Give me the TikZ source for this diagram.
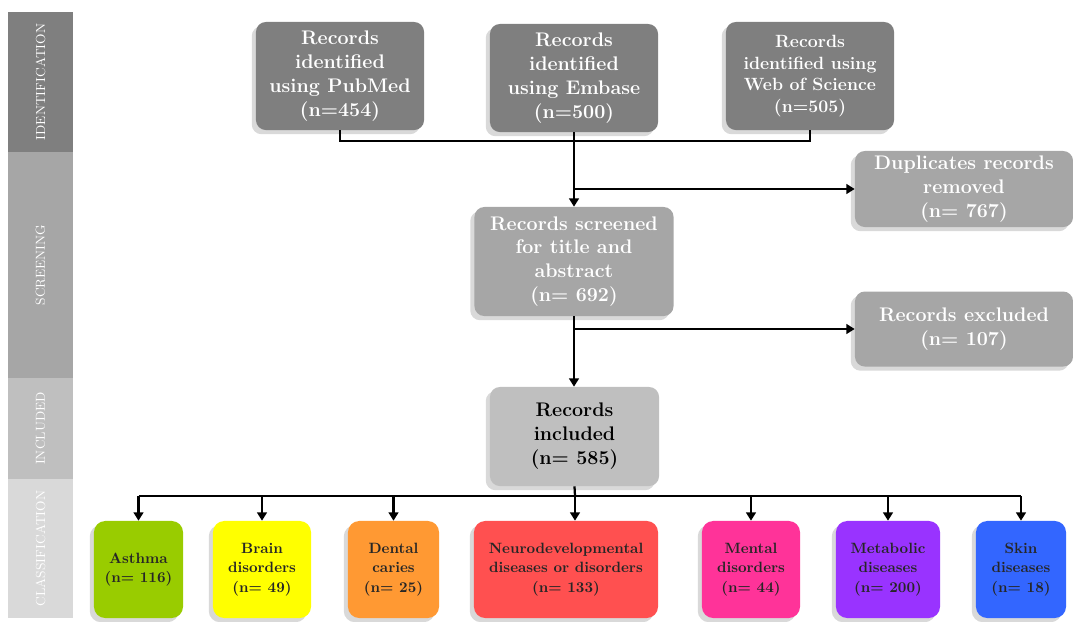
\documentclass[tikz,border=0pt]{standalone}
\usetikzlibrary{arrows.meta,shadows}

\definecolor{idgray}{HTML}{7F7F7F}
\definecolor{scrgray}{HTML}{A6A6A6}
\definecolor{incgray}{HTML}{BFBFBF}
\definecolor{clsgray}{HTML}{D9D9D9}
\definecolor{asthmagreen}{HTML}{99CC00}
\definecolor{brainyellow}{HTML}{FFFF00}
\definecolor{dentalorange}{HTML}{FF9933}
\definecolor{neurored}{HTML}{FF5050}
\definecolor{mentalpink}{HTML}{FF3399}
\definecolor{metapurple}{HTML}{9933FF}
\definecolor{skinblue}{HTML}{3366FF}

\tikzset{
  rbox/.style={rounded corners=7pt, align=center, inner sep=2pt,
    font=\bfseries\fontsize{14}{17}\selectfont,
    drop shadow={shadow xshift=-3pt, shadow yshift=-3pt, opacity=.3}},
  topbox/.style={rbox, fill=idgray, text=white, minimum width=4.2cm, minimum height=2.7cm},
  sidebox/.style={rbox, fill=scrgray, text=white, minimum width=5.45cm, minimum height=1.9cm},
  catbox/.style={rbox, rounded corners=8pt, text=black!85, minimum height=2.425cm,
    font=\bfseries\fontsize{10.6}{14}\selectfont},
  flow/.style={line width=1.6pt},
  arr/.style={flow, -{Triangle[length=6pt,width=7pt]}},
  band/.style={rotate=90, text=white, font=\fontsize{9.3}{11}\selectfont}
}

\begin{document}
\begin{tikzpicture}[x=0.025cm, y=-0.025cm]
                \useasboundingbox (0, 0) rectangle (1073, 621);

                % phase bands
                \fill [idgray] (8, 12) rectangle (73, 152);
                \fill [scrgray] (8, 152) rectangle (73, 378);
                \fill [incgray] (8, 378) rectangle (73, 479);
                \fill [clsgray] (8, 479) rectangle (73, 618);
                \node [band] (bandid) at (40.5, 82) {IDENTIFICATION};
                \node [band] (bandscr) at (40.5, 265) {SCREENING};
                \node [band] (bandinc) at (40.5, 428.5) {INCLUDED};
                \node [band] (bandcls) at (40.5, 548.5) {CLASSIFICATION};

                % identification
                \node [topbox] (pubmed) at (340, 76) {Records\\identified\\using PubMed\\(n=454)};
                \node [topbox] (embase) at (574, 78) {Records\\identified\\using Embase\\(n=500)};
                \node [topbox, font=\bfseries\fontsize{12.6}{15.5}\selectfont] (wos) at (810, 76) {Records\\identified using\\Web of Science\\(n=505)};

                % screening
                \node [sidebox] (dupl) at (964, 189) {Duplicates records\\removed\\(n= 767)};
                \node [rbox, fill=scrgray, text=white, minimum width=4.975cm, minimum height=2.725cm] (screened) at (574, 261.5) {Records screened\\for title and\\abstract\\(n= 692)};
                \node [sidebox, minimum height=1.875cm] (excl) at (964, 329) {Records excluded\\(n= 107)};

                % included
                \node [rbox, fill=incgray, text=black, minimum width=4.225cm, minimum height=2.475cm] (included) at (574.5, 436.5) {Records\\included\\(n= 585)};

                % classification
                \node [catbox, fill=asthmagreen, minimum width=2.225cm] (asthma) at (138.5, 569.5) {Asthma\\(n= 116)};
                \node [catbox, fill=brainyellow, minimum width=2.45cm] (brain) at (262, 569.5) {Brain\\disorders\\(n= 49)};
                \node [catbox, fill=dentalorange, minimum width=2.275cm] (dental) at (393.5, 569.5) {Dental\\caries\\(n= 25)};
                \node [catbox, fill=neurored, minimum width=4.6cm] (neuro) at (566, 569.5) {Neurodevelopmental\\diseases or disorders\\(n= 133)};
                \node [catbox, fill=mentalpink, minimum width=2.45cm] (mental) at (751, 569.5) {Mental\\disorders\\(n= 44)};
                \node [catbox, fill=metapurple, minimum width=2.6cm] (meta) at (888, 569.5) {Metabolic\\diseases\\(n= 200)};
                \node [catbox, fill=skinblue, minimum width=2.25cm] (skin) at (1021, 569.5) {Skin\\diseases\\(n= 18)};

                % connectors
                \coordinate (idjoin) at (575, 141);
                \draw [flow] (pubmed.south) |- (idjoin) -| (wos.south);
                \draw [arr] (embase.south) -- (embase.south |- screened.north);
                \draw [arr] (embase.south |- dupl.west) -- (dupl.west);
                \draw [arr] (screened.south) -- (screened.south |- included.north);
                \draw [arr] (screened.south |- excl.west) -- (excl.west);

                \coordinate (clsjoin) at (575, 496);
                \draw [flow] (included.south) -- (clsjoin);
                \draw [flow] (asthma.north |- clsjoin) -- (skin.north |- clsjoin);
                \draw [arr] (clsjoin) -- (clsjoin |- neuro.north);
                \foreach \cat in {asthma, brain, dental, mental, meta, skin}
                    \draw [arr] (\cat.north |- clsjoin) -- (\cat.north);
            \end{tikzpicture}
\end{document}
